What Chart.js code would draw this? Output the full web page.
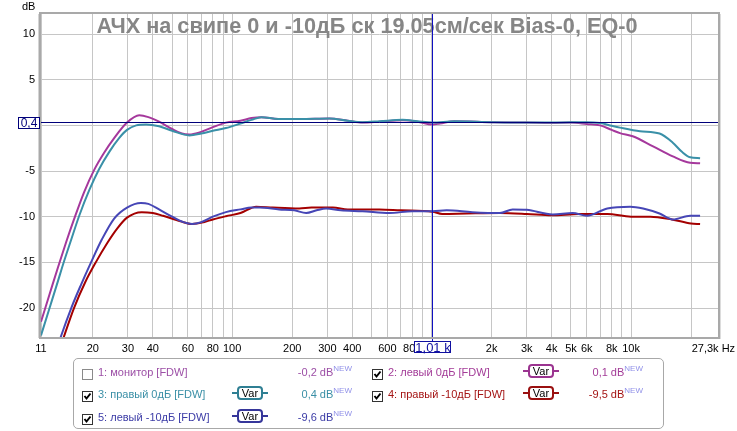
<!DOCTYPE html>
<html>
<head>
<meta charset="utf-8">
<script src="https://cdn.jsdelivr.net/npm/chart.js@4.4.1/dist/chart.umd.min.js"></script>
<style>
  body { margin: 0; background: #fff; font-family: Arial, "Liberation Sans", sans-serif; }
  #wrap { position: relative; width: 737px; height: 431px; }
  #graph { position: absolute; left: 0; top: 0; }
  #legend { position: absolute; left: 73px; top: 358px; width: 591px; height: 71px;
            border: 1px solid #a8a8a8; border-radius: 5px; box-sizing: border-box; }
  .item { position: absolute; font-size: 11px; white-space: nowrap; line-height: 14px; }
  .cb { position: absolute; width: 11px; height: 11px; }
  .var { position: absolute; width: 36px; height: 14px; }
  .val { position: absolute; font-size: 11px; white-space: nowrap; text-align: right; line-height: 14px; }
  .val sup { font-size: 8px; color: #9090e8; vertical-align: 5px; line-height: 0; }
</style>
</head>
<body>
<div id="wrap">
  <canvas id="graph" width="737" height="360"></canvas>
  <div id="legend"></div>
</div>
<script>
// 2: левый 0дБ (magenta)
var leftZeroFreq = [11, 12.1, 13.4, 14.7, 16.1, 18.1, 20.3, 22.8, 25.6, 29.7, 34.2, 38, 43, 50, 56, 61, 68, 80, 93, 110, 125, 140, 170, 220, 307, 380, 450, 550, 715, 850, 1010, 1100, 1300, 2000, 3000, 4000, 5000, 6000, 7000, 8000, 8800, 10200, 12900, 16200, 19800, 22200];
var leftZeroDb = [-21.5, -18.6, -15.5, -12.8, -10.3, -7.3, -4.9, -3.0, -1.4, 0.3, 1.1, 0.9, 0.4, -0.4, -0.9, -1.0, -0.8, -0.2, 0.3, 0.5, 0.8, 0.9, 0.7, 0.7, 0.75, 0.5, 0.3, 0.4, 0.55, 0.4, 0.1, 0.2, 0.45, 0.35, 0.3, 0.25, 0.3, 0.15, 0.0, -0.5, -0.85, -1.2, -2.3, -3.4, -4.1, -4.15];

// 3: правый 0дБ (teal)
var rightZeroFreq = [11, 12.1, 13.4, 14.2, 15.6, 17.1, 19.2, 21.5, 24.2, 27.1, 29.7, 33, 37, 43, 50, 61, 70, 80, 93, 110, 125, 140, 170, 220, 307, 380, 450, 550, 715, 850, 1010, 1300, 2000, 3000, 4000, 5000, 6000, 7000, 8000, 8800, 11100, 13900, 16200, 18000, 19800, 22200];
var rightZeroDb = [-23.0, -20.1, -17.0, -15.2, -12.5, -9.9, -7.1, -4.8, -2.9, -1.4, -0.5, 0.0, 0.1, -0.1, -0.6, -1.1, -0.9, -0.6, -0.3, 0.2, 0.6, 0.9, 0.7, 0.7, 0.75, 0.5, 0.35, 0.45, 0.6, 0.45, 0.3, 0.45, 0.35, 0.3, 0.3, 0.35, 0.35, 0.25, -0.05, -0.25, -0.65, -0.9, -1.9, -2.9, -3.5, -3.6];

// 5: левый -10дБ (blue)
var leftMinusFreq = [12.8, 13.8, 15.6, 17.5, 19.6, 22.2, 25.6, 29.7, 34.9, 38, 43, 50, 57, 63, 70, 80, 93, 110, 125, 137, 172, 205, 235, 265, 296, 350, 450, 615, 800, 1010, 1190, 1600, 2200, 2550, 3000, 4050, 5100, 6000, 7600, 9900, 11500, 13900, 16200, 19800, 22200];
var leftMinusDb = [-25.4, -23.2, -20.0, -17.4, -15.0, -12.5, -10.2, -9.0, -8.5, -8.6, -9.2, -10.0, -10.6, -10.8, -10.6, -10.0, -9.5, -9.2, -9.0, -9.0, -9.2, -9.3, -9.6, -9.3, -9.1, -9.3, -9.4, -9.6, -9.4, -9.4, -9.3, -9.5, -9.6, -9.2, -9.25, -9.75, -9.6, -9.9, -9.1, -8.9, -9.1, -9.65, -10.3, -9.9, -9.9];

// 4: правый -10дБ (red)
var rightMinusFreq = [13.2, 14.3, 16.1, 18.3, 20.7, 23.6, 26.5, 29.7, 35.2, 40, 45, 55, 63, 72, 80, 93, 110, 132, 160, 217, 250, 283, 320, 380, 547, 700, 1010, 1130, 1500, 2200, 3000, 4000, 5500, 7600, 10000, 12500, 16000, 20000, 22200];
var rightMinusDb = [-25.5, -23.2, -20.0, -17.2, -15.0, -12.9, -11.3, -10.1, -9.5, -9.6, -9.9, -10.5, -10.8, -10.6, -10.3, -9.95, -9.6, -8.9, -9.0, -9.1, -9.0, -9.0, -9.0, -9.2, -9.2, -9.3, -9.45, -9.7, -9.65, -9.6, -9.7, -9.85, -9.7, -9.7, -10.0, -10.0, -10.3, -10.75, -10.8];

var xGridValues = [11, 20, 30, 40, 50, 60, 70, 80, 90, 100, 200, 300, 400, 500, 600, 700, 800, 900, 1000, 2000, 3000, 4000, 5000, 6000, 7000, 8000, 9000, 10000, 20000, 27300];
var xLabelValues = [11, 20, 30, 40, 60, 80, 100, 200, 300, 400, 600, 800, 2000, 3000, 4000, 5000, 6000, 8000, 10000, 27300];
var xLabelTexts = ['11', '20', '30', '40', '60', '80', '100', '200', '300', '400', '600', '800', '2k', '3k', '4k', '5k', '6k', '8k', '10k', '27,3k Hz   '];
var yTickValues = [-20, -15, -10, -5, 0, 5, 10];

var cursorFreq = 1010;
var cursorDb = 0.4;
var titleText = 'АЧХ на свипе 0 и -10дБ ск 19.05см/сек Bias-0, EQ-0';

var fontFamily = 'Arial, "Liberation Sans", sans-serif';

function toPoints(freqs, dbs) {
    var pts = [];
    for (var i = 0; i < freqs.length; i++) {
        pts.push({x: freqs[i], y: dbs[i]});
    }
    return pts;
}

function line(label, freqs, dbs, color) {
    return {
        label: label,
        data: toPoints(freqs, dbs),
        borderColor: color,
        borderWidth: 2,
        pointRadius: 0,
        fill: false,
        cubicInterpolationMode: 'monotone'
    };
}

var overlay = {
    id: 'overlay',
    beforeDatasetsDraw(chart) {
        var ctx = chart.ctx;
        ctx.save();
        ctx.font = 'bold 21.7px ' + fontFamily;
        ctx.fillStyle = '#868686';
        ctx.textAlign = 'center';
        ctx.textBaseline = 'alphabetic';
        ctx.fillText(titleText, 367, 33);
        ctx.restore();
    },
    afterDatasetsDraw(chart) {
        var ctx = chart.ctx;
        var a = chart.chartArea;
        var xs = chart.scales.x, ys = chart.scales.y;
        var cx = Math.round(xs.getPixelForValue(cursorFreq)) + 0.5;
        var cy = Math.round(ys.getPixelForValue(cursorDb)) + 0.5;
        ctx.save();
        ctx.lineWidth = 1;
        ctx.strokeStyle = '#00007a';
        ctx.beginPath();
        ctx.moveTo(a.left, cy);
        ctx.lineTo(a.right, cy);
        ctx.stroke();
        ctx.strokeStyle = '#1010c0';
        ctx.beginPath();
        ctx.moveTo(cx, a.top);
        ctx.lineTo(cx, a.bottom + 3);
        ctx.stroke();
        ctx.restore();
    },
    afterDraw(chart) {
        var ctx = chart.ctx;
        var a = chart.chartArea;
        var xs = chart.scales.x, ys = chart.scales.y;
        ctx.save();
        // frame with a light shadow on the right
        ctx.strokeStyle = '#dcdcdc';
        ctx.lineWidth = 2;
        ctx.beginPath();
        ctx.moveTo(a.right + 2, a.top);
        ctx.lineTo(a.right + 2, a.bottom + 1);
        ctx.stroke();
        ctx.strokeStyle = '#a9a9a9';
        ctx.lineWidth = 2;
        ctx.strokeRect(a.left - 1, a.top - 1, a.right - a.left + 2, a.bottom - a.top + 1);
        ctx.strokeStyle = '#d4d4d4';
        ctx.lineWidth = 1;
        ctx.beginPath();
        ctx.moveTo(a.left - 2.5, a.top);
        ctx.lineTo(a.left - 2.5, a.bottom);
        ctx.stroke();

        ctx.font = '11px ' + fontFamily;
        ctx.fillStyle = '#000';
        ctx.textAlign = 'left';
        ctx.textBaseline = 'middle';
        ctx.fillText('dB', 22, 7);

        // cursor value boxes
        var cy = Math.round(ys.getPixelForValue(cursorDb));
        ctx.fillStyle = '#fff';
        ctx.fillRect(18, cy - 5, 22, 12);
        ctx.strokeStyle = '#00007a';
        ctx.lineWidth = 1;
        ctx.strokeRect(18.5, cy - 4.5, 21, 11);
        ctx.fillStyle = '#00007a';
        ctx.font = '12px ' + fontFamily;
        ctx.textAlign = 'center';
        ctx.fillText('0,4', 29, cy + 1.5);

        var cx = Math.round(xs.getPixelForValue(cursorFreq));
        ctx.fillStyle = '#fff';
        ctx.fillRect(cx - 18, a.bottom + 3, 37, 12);
        ctx.strokeStyle = '#1010a0';
        ctx.strokeRect(cx - 17.5, a.bottom + 3.5, 36, 11);
        ctx.fillStyle = '#1010a0';
        ctx.font = '13px ' + fontFamily;
        ctx.fillText('1,01 k', cx + 1, a.bottom + 10);
        ctx.restore();
    }
};

var myChart = new Chart(document.getElementById('graph'), {
    type: 'line',
    data: {
        datasets: [
            line('3: правый 0дБ [FDW]', rightZeroFreq, rightZeroDb, '#3a90a8'),
            line('5: левый -10дБ [FDW]', leftMinusFreq, leftMinusDb, '#4646b6'),
            line('2: левый 0дБ [FDW]', leftZeroFreq, leftZeroDb, '#a5389c'),
            line('4: правый -10дБ [FDW]', rightMinusFreq, rightMinusDb, '#a40000')
        ]
    },
    options: {
        responsive: false,
        animation: false,
        devicePixelRatio: 1,
        layout: { padding: { top: 14, left: 0, right: 19, bottom: 0 } },
        plugins: { legend: { display: false }, tooltip: { enabled: false } },
        scales: {
            x: {
                type: 'logarithmic',
                min: 11,
                max: 27300,
                afterBuildTicks: function (s) {
                    s.ticks = xGridValues.map(function (v) { return {value: v}; });
                },
                afterFit: function (s) {
                    s.height = 22;
                    s.paddingLeft = 0;
                    s.paddingRight = 0;
                },
                ticks: {
                    autoSkip: false,
                    maxRotation: 0,
                    padding: 4,
                    color: '#000',
                    font: { size: 11, family: fontFamily },
                    callback: function (v) {
                        var i = xLabelValues.indexOf(v);
                        return i < 0 ? '' : xLabelTexts[i];
                    }
                },
                grid: { color: '#c6c6c6', drawTicks: false },
                border: { display: false }
            },
            y: {
                min: -23.28,
                max: 12.19,
                afterBuildTicks: function (s) {
                    s.ticks = yTickValues.map(function (v) { return {value: v}; });
                },
                afterFit: function (s) {
                    s.width = 41;
                    s.paddingTop = 0;
                    s.paddingBottom = 0;
                },
                ticks: {
                    padding: 6,
                    color: '#000',
                    font: { size: 11, family: fontFamily }
                },
                grid: { color: '#c6c6c6', drawTicks: false },
                border: { display: false }
            }
        }
    },
    plugins: [overlay]
});

// legend panel under the graph
var legendRows = [
    {x: 82, y: 366, text: '1: монитор [FDW]', color: '#9c4fa6', checked: false, varColor: null, value: '-0,2'},
    {x: 82, y: 388, text: '3: правый 0дБ [FDW]', color: '#3a8fa6', checked: true, varColor: '#2f7f93', value: '0,4'},
    {x: 82, y: 411, text: '5: левый -10дБ [FDW]', color: '#3b3ba6', checked: true, varColor: '#36369a', value: '-9,6'},
    {x: 372, y: 366, text: '2: левый 0дБ [FDW]', color: '#a33c98', checked: true, varColor: '#9b3490', value: '0,1'},
    {x: 372, y: 388, text: '4: правый -10дБ [FDW]', color: '#a41414', checked: true, varColor: '#9a1010', value: '-9,5'}
];

var wrap = document.getElementById('wrap');
legendRows.forEach(function (r) {
    var cb = document.createElement('div');
    cb.className = 'cb';
    cb.style.left = r.x + 'px';
    cb.style.top = r.y + 'px';
    cb.innerHTML = '<svg width="11" height="11"><rect x="0.5" y="0.5" width="10" height="10" fill="#fff" stroke="' +
        (r.checked ? '#333' : '#8a8a8a') + '"/>' +
        (r.checked ? '<polyline points="2.5,5 4.5,7.5 8.5,2.5" fill="none" stroke="#000" stroke-width="2"/>' : '') + '</svg>';
    wrap.appendChild(cb);

    var t = document.createElement('div');
    t.className = 'item';
    t.style.left = (r.x + 16) + 'px';
    t.style.top = (r.y - 1) + 'px';
    t.style.color = r.color;
    t.textContent = r.text;
    wrap.appendChild(t);

    var col2 = r.x > 300;
    if (r.varColor) {
        var v = document.createElement('div');
        v.className = 'var';
        v.style.left = (col2 ? 523 : 232) + 'px';
        v.style.top = (r.y - 2) + 'px';
        v.innerHTML = '<svg width="36" height="14"><line x1="0" y1="7" x2="6" y2="7" stroke="' + r.varColor + '" stroke-width="2"/>' +
            '<line x1="30" y1="7" x2="36" y2="7" stroke="' + r.varColor + '" stroke-width="2"/>' +
            '<rect x="6" y="1" width="24" height="12" rx="3" fill="#fff" stroke="' + r.varColor + '" stroke-width="2"/>' +
            '<text x="18" y="11" text-anchor="middle" font-size="11" font-family="Arial, Liberation Sans" fill="#000">Var</text></svg>';
        wrap.appendChild(v);
    }

    var val = document.createElement('div');
    val.className = 'val';
    val.style.right = (737 - (col2 ? 643 : 352)) + 'px';
    val.style.top = (r.y - 1) + 'px';
    val.style.color = r.color;
    val.innerHTML = r.value + ' dB<sup>NEW</sup>';
    wrap.appendChild(val);
});
</script>
</body>
</html>
